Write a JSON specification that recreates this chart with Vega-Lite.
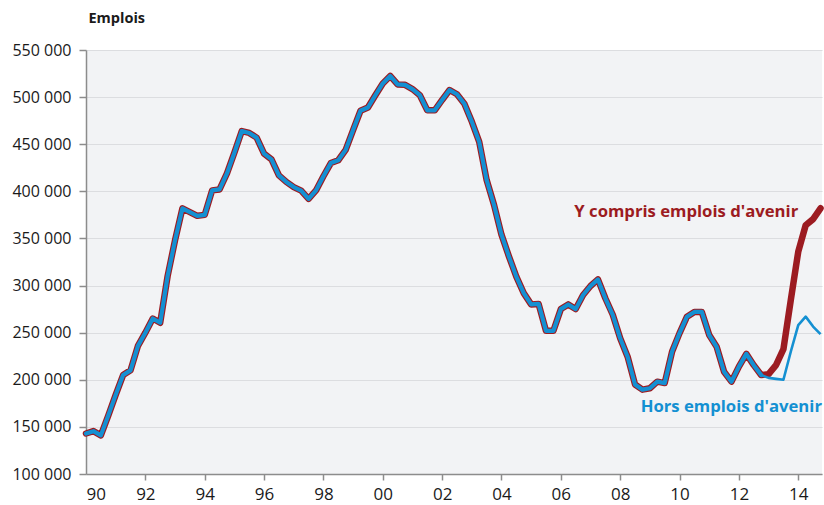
{
  "$schema": "https://vega.github.io/schema/vega-lite/v6.json",
  "width": 736,
  "height": 424,
  "autosize": "none",
  "padding": {"left": 86, "top": 50, "right": 2, "bottom": 31},
  "background": "#ffffff",
  "config": {
    "view": {"fill": "#f2f3f5", "stroke": null},
    "font": "Open Sans",
    "axis": {
      "labelFont": "Open Sans",
      "labelFontSize": 16,
      "labelColor": "#1a1a1a",
      "domainColor": "#8c8c8c",
      "domainWidth": 1.5,
      "tickColor": "#8c8c8c",
      "tickWidth": 1.5
    }
  },
  "datasets": {
    "emplois": [
      {"trimestre": 1990.00, "avec": 143000, "hors": 143000},
      {"trimestre": 1990.25, "avec": 145500, "hors": 145500},
      {"trimestre": 1990.50, "avec": 141000, "hors": 141000},
      {"trimestre": 1990.75, "avec": 162000, "hors": 162000},
      {"trimestre": 1991.00, "avec": 184000, "hors": 184000},
      {"trimestre": 1991.25, "avec": 205000, "hors": 205000},
      {"trimestre": 1991.50, "avec": 210000, "hors": 210000},
      {"trimestre": 1991.75, "avec": 236000, "hors": 236000},
      {"trimestre": 1992.00, "avec": 250000, "hors": 250000},
      {"trimestre": 1992.25, "avec": 265000, "hors": 265000},
      {"trimestre": 1992.50, "avec": 260500, "hors": 260500},
      {"trimestre": 1992.75, "avec": 310000, "hors": 310000},
      {"trimestre": 1993.00, "avec": 348000, "hors": 348000},
      {"trimestre": 1993.25, "avec": 382000, "hors": 382000},
      {"trimestre": 1993.50, "avec": 378000, "hors": 378000},
      {"trimestre": 1993.75, "avec": 374000, "hors": 374000},
      {"trimestre": 1994.00, "avec": 375000, "hors": 375000},
      {"trimestre": 1994.25, "avec": 401000, "hors": 401000},
      {"trimestre": 1994.50, "avec": 402000, "hors": 402000},
      {"trimestre": 1994.75, "avec": 419000, "hors": 419000},
      {"trimestre": 1995.00, "avec": 441000, "hors": 441000},
      {"trimestre": 1995.25, "avec": 464000, "hors": 464000},
      {"trimestre": 1995.50, "avec": 462000, "hors": 462000},
      {"trimestre": 1995.75, "avec": 457000, "hors": 457000},
      {"trimestre": 1996.00, "avec": 440000, "hors": 440000},
      {"trimestre": 1996.25, "avec": 434000, "hors": 434000},
      {"trimestre": 1996.50, "avec": 417000, "hors": 417000},
      {"trimestre": 1996.75, "avec": 410000, "hors": 410000},
      {"trimestre": 1997.00, "avec": 404500, "hors": 404500},
      {"trimestre": 1997.25, "avec": 400700, "hors": 400700},
      {"trimestre": 1997.50, "avec": 392000, "hors": 392000},
      {"trimestre": 1997.75, "avec": 401000, "hors": 401000},
      {"trimestre": 1998.00, "avec": 416000, "hors": 416000},
      {"trimestre": 1998.25, "avec": 430000, "hors": 430000},
      {"trimestre": 1998.50, "avec": 433000, "hors": 433000},
      {"trimestre": 1998.75, "avec": 444000, "hors": 444000},
      {"trimestre": 1999.00, "avec": 465000, "hors": 465000},
      {"trimestre": 1999.25, "avec": 485500, "hors": 485500},
      {"trimestre": 1999.50, "avec": 489000, "hors": 489000},
      {"trimestre": 1999.75, "avec": 502000, "hors": 502000},
      {"trimestre": 2000.00, "avec": 514500, "hors": 514500},
      {"trimestre": 2000.25, "avec": 522500, "hors": 522500},
      {"trimestre": 2000.50, "avec": 513500, "hors": 513500},
      {"trimestre": 2000.75, "avec": 513000, "hors": 513000},
      {"trimestre": 2001.00, "avec": 508500, "hors": 508500},
      {"trimestre": 2001.25, "avec": 502000, "hors": 502000},
      {"trimestre": 2001.50, "avec": 486000, "hors": 486000},
      {"trimestre": 2001.75, "avec": 486000, "hors": 486000},
      {"trimestre": 2002.00, "avec": 497000, "hors": 497000},
      {"trimestre": 2002.25, "avec": 507500, "hors": 507500},
      {"trimestre": 2002.50, "avec": 503000, "hors": 503000},
      {"trimestre": 2002.75, "avec": 493000, "hors": 493000},
      {"trimestre": 2003.00, "avec": 474000, "hors": 474000},
      {"trimestre": 2003.25, "avec": 452500, "hors": 452500},
      {"trimestre": 2003.50, "avec": 412000, "hors": 412000},
      {"trimestre": 2003.75, "avec": 385500, "hors": 385500},
      {"trimestre": 2004.00, "avec": 354000, "hors": 354000},
      {"trimestre": 2004.25, "avec": 331000, "hors": 331000},
      {"trimestre": 2004.50, "avec": 309500, "hors": 309500},
      {"trimestre": 2004.75, "avec": 292000, "hors": 292000},
      {"trimestre": 2005.00, "avec": 280000, "hors": 280000},
      {"trimestre": 2005.25, "avec": 280500, "hors": 280500},
      {"trimestre": 2005.50, "avec": 252000, "hors": 252000},
      {"trimestre": 2005.75, "avec": 252000, "hors": 252000},
      {"trimestre": 2006.00, "avec": 275000, "hors": 275000},
      {"trimestre": 2006.25, "avec": 280000, "hors": 280000},
      {"trimestre": 2006.50, "avec": 275000, "hors": 275000},
      {"trimestre": 2006.75, "avec": 290000, "hors": 290000},
      {"trimestre": 2007.00, "avec": 299500, "hors": 299500},
      {"trimestre": 2007.25, "avec": 306500, "hors": 306500},
      {"trimestre": 2007.50, "avec": 286500, "hors": 286500},
      {"trimestre": 2007.75, "avec": 269000, "hors": 269000},
      {"trimestre": 2008.00, "avec": 244000, "hors": 244000},
      {"trimestre": 2008.25, "avec": 224500, "hors": 224500},
      {"trimestre": 2008.50, "avec": 195000, "hors": 195000},
      {"trimestre": 2008.75, "avec": 189500, "hors": 189500},
      {"trimestre": 2009.00, "avec": 191000, "hors": 191000},
      {"trimestre": 2009.25, "avec": 198000, "hors": 198000},
      {"trimestre": 2009.50, "avec": 196500, "hors": 196500},
      {"trimestre": 2009.75, "avec": 230000, "hors": 230000},
      {"trimestre": 2010.00, "avec": 249500, "hors": 249500},
      {"trimestre": 2010.25, "avec": 267000, "hors": 267000},
      {"trimestre": 2010.50, "avec": 272000, "hors": 272000},
      {"trimestre": 2010.75, "avec": 272000, "hors": 272000},
      {"trimestre": 2011.00, "avec": 247500, "hors": 247500},
      {"trimestre": 2011.25, "avec": 235000, "hors": 235000},
      {"trimestre": 2011.50, "avec": 208500, "hors": 208500},
      {"trimestre": 2011.75, "avec": 198000, "hors": 198000},
      {"trimestre": 2012.00, "avec": 214000, "hors": 214000},
      {"trimestre": 2012.25, "avec": 227500, "hors": 227500},
      {"trimestre": 2012.50, "avec": 215500, "hors": 215500},
      {"trimestre": 2012.75, "avec": 205000, "hors": 205000},
      {"trimestre": 2013.00, "avec": 206000, "hors": 202000},
      {"trimestre": 2013.25, "avec": 215500, "hors": 201000},
      {"trimestre": 2013.50, "avec": 232500, "hors": 200000},
      {"trimestre": 2013.75, "avec": 285000, "hors": 230000},
      {"trimestre": 2014.00, "avec": 336000, "hors": 258000},
      {"trimestre": 2014.25, "avec": 364000, "hors": 267000},
      {"trimestre": 2014.50, "avec": 370500, "hors": 256500},
      {"trimestre": 2014.75, "avec": 382000, "hors": 248500}
    ],
    "etiquettes": [
      {"texte": "Y compris emplois d'avenir", "trimestre": 2014.0, "emplois": 378000, "serie": "avec"},
      {"texte": "Hors emplois d'avenir", "trimestre": 2014.8, "emplois": 171000, "serie": "hors"}
    ]
  },
  "data": {"name": "emplois"},
  "transform": [{"fold": ["avec", "hors"], "as": ["serie", "emplois"]}],
  "encoding": {
    "x": {
      "field": "trimestre",
      "type": "quantitative",
      "scale": {"domain": [1990, 2014.8], "nice": false, "zero": false},
      "axis": {
        "title": null,
        "grid": false,
        "values": [1990, 1992, 1994, 1996, 1998, 2000, 2002, 2004, 2006, 2008, 2010, 2012, 2014],
        "labelExpr": "substring(toString(datum.value), 2, 4)",
        "tickSize": 6,
        "tickOpacity": {"condition": {"test": "datum.value == 1990", "value": 0}, "value": 1},
        "labelPadding": 6,
        "labelDx": 7,
        "labelFontSize": 17
      }
    },
    "y": {
      "field": "emplois",
      "type": "quantitative",
      "scale": {"domain": [100000, 550000], "nice": false, "zero": false},
      "axis": {
        "title": "Emplois",
        "titleAngle": 0,
        "titleAlign": "left",
        "titleBaseline": "alphabetic",
        "titleX": 2,
        "titleY": -28,
        "titleFont": "Open Sans",
        "titleFontSize": 14.5,
        "titleFontWeight": "bold",
        "titleColor": "#1a1a1a",
        "values": [100000, 150000, 200000, 250000, 300000, 350000, 400000, 450000, 500000, 550000],
        "labelExpr": "replace(format(datum.value, ','), ',', ' ')",
        "tickSize": 7,
        "labelPadding": 8,
        "grid": true,
        "gridColor": "#dcdde0",
        "gridWidth": 1.2
      }
    },
    "color": {
      "field": "serie",
      "type": "nominal",
      "scale": {"domain": ["avec", "hors"], "range": ["#9c1b21", "#1490d2"]},
      "legend": null
    }
  },
  "layer": [
    {
      "transform": [{"filter": "datum.serie == 'avec'"}],
      "mark": {"type": "line", "strokeWidth": 6.5, "strokeJoin": "round", "strokeCap": "round"}
    },
    {
      "transform": [{"filter": "datum.serie == 'hors'"}],
      "mark": {"type": "line", "strokeWidth": 2.6, "strokeJoin": "round"}
    },
    {
      "transform": [{"filter": "datum.serie == 'hors' && datum.trimestre <= 2012.76"}],
      "mark": {"type": "line", "strokeWidth": 4.2, "strokeJoin": "round", "strokeCap": "round"}
    },
    {
      "data": {"name": "etiquettes"},
      "transform": [],
      "mark": {"type": "text", "align": "right", "baseline": "middle", "font": "Open Sans", "fontSize": 16.7, "fontWeight": "bold"},
      "encoding": {
        "text": {"field": "texte"}
      }
    }
  ]
}
